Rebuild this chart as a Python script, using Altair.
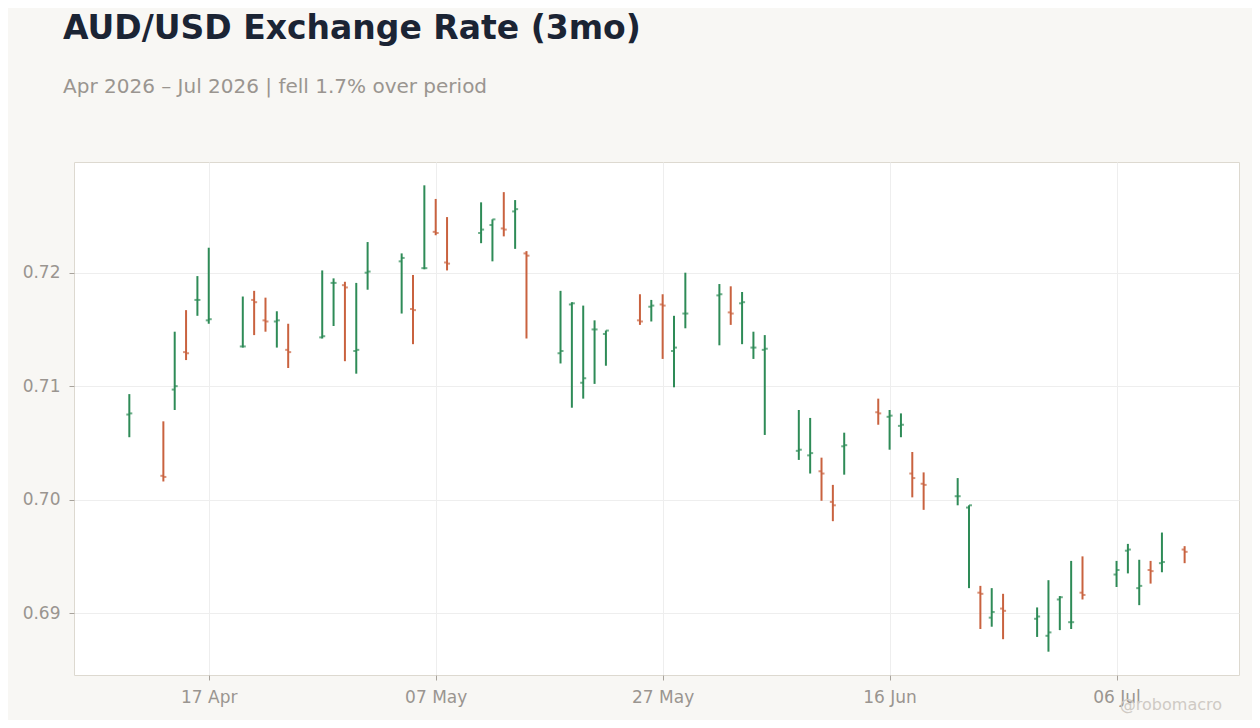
import altair as alt
import pandas as pd

UP_COLOR = "#2e8b57"
DOWN_COLOR = "#c9623f"
BG = "#f8f7f4"
MUTED = "#9a9590"

dates = [
    "2026-04-10", "2026-04-13", "2026-04-14", "2026-04-15", "2026-04-16", "2026-04-17",
    "2026-04-20", "2026-04-21", "2026-04-22", "2026-04-23", "2026-04-24",
    "2026-04-27", "2026-04-28", "2026-04-29", "2026-04-30", "2026-05-01",
    "2026-05-04", "2026-05-05", "2026-05-06", "2026-05-07", "2026-05-08",
    "2026-05-11", "2026-05-12", "2026-05-13", "2026-05-14", "2026-05-15",
    "2026-05-18", "2026-05-19", "2026-05-20", "2026-05-21", "2026-05-22",
    "2026-05-25", "2026-05-26", "2026-05-27", "2026-05-28", "2026-05-29",
    "2026-06-01", "2026-06-02", "2026-06-03", "2026-06-04", "2026-06-05",
    "2026-06-08", "2026-06-09", "2026-06-10", "2026-06-11", "2026-06-12",
    "2026-06-15", "2026-06-16", "2026-06-17", "2026-06-18", "2026-06-19",
    "2026-06-22", "2026-06-23", "2026-06-24", "2026-06-25", "2026-06-26",
    "2026-06-29", "2026-06-30", "2026-07-01", "2026-07-02", "2026-07-03",
    "2026-07-06", "2026-07-07", "2026-07-08", "2026-07-09", "2026-07-10",
    "2026-07-12",
]
opens = [
    0.7075, 0.7021, 0.7097, 0.7130, 0.7176, 0.7158,
    0.7135, 0.7176, 0.7158, 0.7157, 0.7132,
    0.7143, 0.7191, 0.7189, 0.7131, 0.7200,
    0.7210, 0.7168, 0.7204, 0.7236, 0.7209,
    0.7235, 0.7242, 0.7239, 0.7254, 0.7217,
    0.7129, 0.7172, 0.7103, 0.7150, 0.7146,
    0.7158, 0.7170, 0.7172, 0.7131, 0.7164,
    0.7180, 0.7165, 0.7173, 0.7134, 0.7132,
    0.7043, 0.7039, 0.7025, 0.6998, 0.7047,
    0.7077, 0.7073, 0.7065, 0.7023, 0.7014,
    0.7003, 0.6993, 0.6918, 0.6896, 0.6904,
    0.6895, 0.6880, 0.6912, 0.6892, 0.6918,
    0.6934, 0.6955, 0.6922, 0.6938, 0.6944,
    0.6956,
]
highs = [
    0.7093, 0.7069, 0.7148, 0.7167, 0.7197, 0.7222,
    0.7179, 0.7184, 0.7178, 0.7166, 0.7155,
    0.7202, 0.7195, 0.7192, 0.7191, 0.7227,
    0.7217, 0.7198, 0.7277, 0.7265, 0.7249,
    0.7262, 0.7247, 0.7271, 0.7264, 0.7219,
    0.7184, 0.7174, 0.7171, 0.7158, 0.7149,
    0.7181, 0.7176, 0.7181, 0.7162, 0.7200,
    0.7190, 0.7188, 0.7183, 0.7148, 0.7145,
    0.7079, 0.7072, 0.7037, 0.7013, 0.7059,
    0.7089, 0.7079, 0.7076, 0.7042, 0.7024,
    0.7019, 0.6995, 0.6924, 0.6922, 0.6917,
    0.6905, 0.6929, 0.6915, 0.6946, 0.6950,
    0.6946, 0.6961, 0.6947, 0.6946, 0.6971,
    0.6959,
]
lows = [
    0.7055, 0.7016, 0.7079, 0.7123, 0.7162, 0.7155,
    0.7134, 0.7145, 0.7148, 0.7134, 0.7116,
    0.7142, 0.7153, 0.7122, 0.7111, 0.7185,
    0.7164, 0.7137, 0.7203, 0.7233, 0.7202,
    0.7226, 0.7210, 0.7232, 0.7221, 0.7142,
    0.7120, 0.7081, 0.7089, 0.7102, 0.7118,
    0.7154, 0.7157, 0.7124, 0.7099, 0.7151,
    0.7136, 0.7154, 0.7137, 0.7124, 0.7057,
    0.7035, 0.7023, 0.6999, 0.6981, 0.7022,
    0.7066, 0.7044, 0.7055, 0.7002, 0.6991,
    0.6995, 0.6922, 0.6886, 0.6888, 0.6877,
    0.6879, 0.6866, 0.6885, 0.6886, 0.6912,
    0.6923, 0.6935, 0.6907, 0.6926, 0.6936,
    0.6944,
]
closes = [
    0.7076, 0.7020, 0.7100, 0.7129, 0.7176, 0.7159,
    0.7135, 0.7174, 0.7157, 0.7158, 0.7130,
    0.7144, 0.7191, 0.7187, 0.7132, 0.7201,
    0.7213, 0.7167, 0.7204, 0.7235, 0.7208,
    0.7238, 0.7247, 0.7238, 0.7256, 0.7215,
    0.7131, 0.7173, 0.7107, 0.7150, 0.7149,
    0.7157, 0.7171, 0.7171, 0.7134, 0.7164,
    0.7181, 0.7164, 0.7174, 0.7134, 0.7133,
    0.7044, 0.7041, 0.7023, 0.6995, 0.7048,
    0.7076, 0.7074, 0.7066, 0.7019, 0.7013,
    0.7003, 0.6995, 0.6917, 0.6901, 0.6902,
    0.6897, 0.6883, 0.6914, 0.6892, 0.6916,
    0.6938, 0.6956, 0.6924, 0.6937, 0.6945,
    0.6954,
]

y_ticks = [0.69, 0.70, 0.71, 0.72]
x_tick_dates = [(2026, 4, 17), (2026, 5, 7), (2026, 5, 27), (2026, 6, 16), (2026, 7, 6)]

TITLE = "AUD/USD Exchange Rate (3mo)"
SUBTITLE = "Apr 2026 \u2013 Jul 2026 | fell 1.7% over period"
WATERMARK = "@robomacro"

df = pd.DataFrame({
    "date": pd.to_datetime(dates),
    "open": opens,
    "high": highs,
    "low": lows,
    "close": closes,
})
df["candle_color"] = [UP_COLOR if c >= o else DOWN_COLOR for o, c in zip(opens, closes)]

# 5% padding around the price range, like the reference
lo, hi = min(lows), max(highs)
pad = (hi - lo) * 0.05
y_scale = alt.Scale(domain=[lo - pad, hi + pad], nice=False, zero=False)

x_scale = alt.Scale(domain=[
    alt.DateTime(year=2026, month=4, date=5, hours=3),
    alt.DateTime(year=2026, month=7, date=16, hours=19),
])

time_axis = alt.Axis(
    values=[alt.DateTime(year=y, month=m, date=d) for y, m, d in x_tick_dates],
    format="%d %b",
    labelColor=MUTED,
    labelFontSize=17,
    labelPadding=9,
    tickColor="#a8a39c",
    tickSize=5,
    domain=False,
    gridColor="#eeeeee",
    title=None,
    labelAngle=0,
)
price_axis = alt.Axis(
    values=y_ticks,
    format=".2f",
    labelColor=MUTED,
    labelFontSize=17,
    labelPadding=9,
    tickColor="#a8a39c",
    tickSize=5,
    domain=False,
    gridColor="#eeeeee",
    title=None,
)

base = alt.Chart(df).encode(x=alt.X("date:T", scale=x_scale, axis=time_axis))

# high-low bar with open tick on the left and close tick on the right
wick = base.mark_rule(strokeWidth=2).encode(
    y=alt.Y("low:Q", scale=y_scale, axis=price_axis),
    y2="high:Q",
    color=alt.Color("candle_color:N", scale=None, legend=None),
)
open_tick = base.mark_tick(orient="horizontal", size=3, thickness=2, xOffset=-1.5).encode(
    y=alt.Y("open:Q", scale=y_scale),
    color=alt.Color("candle_color:N", scale=None, legend=None),
)
close_tick = base.mark_tick(orient="horizontal", size=3, thickness=2, xOffset=1.5).encode(
    y=alt.Y("close:Q", scale=y_scale),
    color=alt.Color("candle_color:N", scale=None, legend=None),
)
watermark = alt.Chart(pd.DataFrame({"t": [WATERMARK]})).mark_text(
    align="right", baseline="alphabetic", fontSize=16, color="#cfcac4", font="DejaVu Sans"
).encode(x=alt.value(1148), y=alt.value(548), text="t:N")

chart = alt.layer(wick, open_tick, close_tick, watermark).properties(
    width=1165,
    height=513,
    autosize=alt.AutoSizeParams(type="none"),
    padding={"left": 66, "top": 154, "right": 13, "bottom": 45},
    background=BG,
    title=alt.TitleParams(
        text=TITLE,
        subtitle=SUBTITLE,
        anchor="start",
        frame="group",
        dx=-11,
        offset=65,
        font="DejaVu Sans",
        fontSize=33,
        fontWeight="bold",
        color="#1b2434",
        subtitleFont="DejaVu Sans",
        subtitleFontSize=20,
        subtitleColor=MUTED,
        subtitlePadding=31,
    ),
).configure_view(stroke="#ddd9d0", fill="white").configure_axis(
    labelFont="DejaVu Sans"
)

chart.save("out.html", embed_options={"renderer": "svg", "actions": False})
